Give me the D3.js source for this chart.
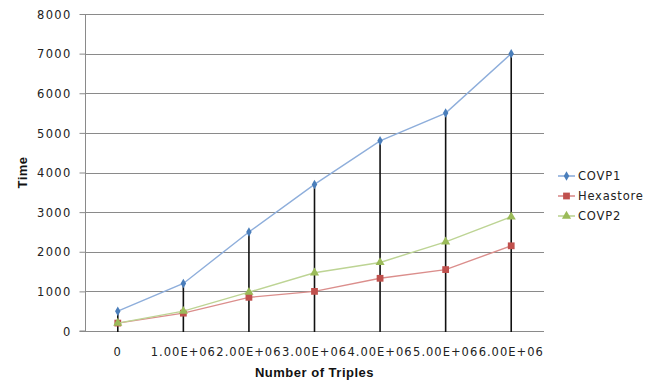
<!DOCTYPE html>
<html>
<head>
<meta charset="utf-8">
<script src="https://cdn.jsdelivr.net/npm/d3@7"></script>
<style>
  html, body { margin: 0; padding: 0; background: #fff; }
  svg { display: block; }
  .tick-label { font-family: "DejaVu Sans", Verdana, sans-serif; font-size: 11.5px; fill: #222; }
  .axis-title { font-family: "Liberation Sans", Arial, sans-serif; font-weight: bold; font-size: 13px; fill: #111; letter-spacing: 0.5px; }
</style>
</head>
<body>
<svg id="chart" width="646" height="380"></svg>
<script>
// Categories: number of triples
const categories = ["0", "1.00E+06", "2.00E+06", "3.00E+06", "4.00E+06", "5.00E+06", "6.00E+06"];
// Query time per store
const covp1 = [500, 1200, 2500, 3700, 4800, 5500, 7000];
const hexastore = [200, 450, 850, 1000, 1330, 1550, 2150];
const covp2 = [200, 500, 980, 1470, 1730, 2250, 2880];
const yTicks = [0, 1000, 2000, 3000, 4000, 5000, 6000, 7000, 8000];
const seriesNames = ["COVP1", "Hexastore", "COVP2"];

const series = [
  { name: seriesNames[0], values: covp1, line: "#8EAEDB", marker: "#4A7EBB", shape: d3.symbolDiamond, size: 26 },
  { name: seriesNames[1], values: hexastore, line: "#DB8E8C", marker: "#C0504D", shape: d3.symbolSquare, size: 46 },
  { name: seriesNames[2], values: covp2, line: "#BDD494", marker: "#9BBB59", shape: d3.symbolTriangle, size: 36 }
];

const svg = d3.select("#chart");
const plot = { left: 85, right: 544, top: 14, bottom: 331 };

const x = d3.scaleBand().domain(categories).range([plot.left, plot.right]);
const y = d3.scaleLinear().domain([0, 8000]).range([plot.bottom, plot.top]);
const cx = c => x(c) + x.bandwidth() / 2;

// Horizontal gridlines
svg.append("g").selectAll("line").data(yTicks.slice(1)).join("line")
  .attr("x1", plot.left).attr("x2", plot.right)
  .attr("y1", d => Math.round(y(d)) + 0.5).attr("y2", d => Math.round(y(d)) + 0.5)
  .attr("stroke", "#8a8a8a").attr("stroke-width", 1);

// Value axis with outside ticks
const yAxis = svg.append("g")
  .attr("transform", `translate(${plot.left + 0.5},0)`)
  .call(d3.axisLeft(y).tickValues(yTicks).tickSize(6).tickPadding(8).tickFormat(d3.format("d")));
yAxis.select(".domain").attr("stroke", "#8a8a8a").attr("d", `M-6,${plot.bottom}H0V${plot.top}`);
yAxis.selectAll(".tick line").attr("stroke", "#8a8a8a");
yAxis.selectAll(".tick text").attr("class", "tick-label").attr("font-family", null).attr("font-size", null)
  .style("letter-spacing", "1.3px").attr("dy", "0.36em");

// Category axis line
svg.append("line")
  .attr("x1", plot.left).attr("x2", plot.right)
  .attr("y1", plot.bottom + 0.5).attr("y2", plot.bottom + 0.5)
  .attr("stroke", "#8a8a8a");

// Category labels
svg.append("g").selectAll("text").data(categories).join("text")
  .attr("class", "tick-label")
  .attr("x", d => cx(d)).attr("y", 356)
  .attr("text-anchor", "middle")
  .style("letter-spacing", "1px")
  .text(d => d);

// Drop lines from the highest point of each category to the axis
svg.append("g").selectAll("line").data(categories).join("line")
  .attr("x1", d => cx(d)).attr("x2", d => cx(d))
  .attr("y1", (d, i) => y(d3.max(series, s => s.values[i])))
  .attr("y2", plot.bottom + 1)
  .attr("stroke", "#111").attr("stroke-width", 1.6);

// Series lines and markers
const line = d3.line().x((d, i) => cx(categories[i])).y(d => y(d));
series.forEach(s => {
  svg.append("path").datum(s.values)
    .attr("d", line).attr("fill", "none")
    .attr("stroke", s.line).attr("stroke-width", 1.4);
  svg.append("g").selectAll("path").data(s.values).join("path")
    .attr("transform", (d, i) => `translate(${cx(categories[i])},${y(d)})`)
    .attr("d", d3.symbol(s.shape, s.size))
    .attr("fill", s.marker);
});

// Axis titles
svg.append("text").attr("class", "axis-title")
  .attr("x", (plot.left + plot.right) / 2).attr("y", 377)
  .attr("text-anchor", "middle").text("Number of Triples");
svg.append("text").attr("class", "axis-title")
  .attr("transform", `translate(27,${(plot.top + plot.bottom) / 2}) rotate(-90)`)
  .attr("text-anchor", "middle").text("Time");

// Legend
const legend = svg.append("g").selectAll("g").data(series).join("g")
  .attr("transform", (d, i) => `translate(558,${176 + i * 20})`);
legend.append("line").attr("x1", 0).attr("x2", 17).attr("stroke", d => d.line).attr("stroke-width", 1.6);
legend.append("path").attr("transform", "translate(8.5,0)")
  .attr("d", d => d3.symbol(d.shape, d.size)()).attr("fill", d => d.marker);
legend.append("text").attr("class", "tick-label")
  .attr("x", 20).attr("dy", "0.36em").style("letter-spacing", "0.8px")
  .text(d => d.name);
</script>
</body>
</html>
